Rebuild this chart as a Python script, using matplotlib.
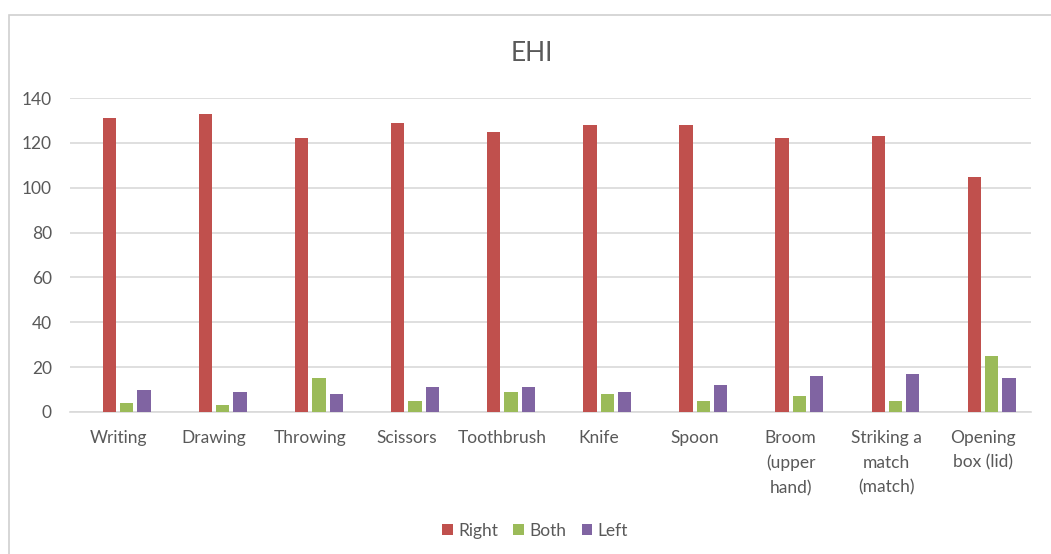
import numpy as np
import matplotlib.pyplot as plt
from matplotlib.patches import Rectangle

plt.rcParams['font.family'] = ['Lato', 'DejaVu Sans']

categories = ["Writing", "Drawing", "Throwing", "Scissors", "Toothbrush",
              "Knife", "Spoon", "Broom\n(upper\nhand)", "Striking a\nmatch\n(match)",
              "Opening\nbox (lid)"]
right = [131, 133, 122, 129, 125, 128, 128, 122, 123, 105]
both = [4, 3, 15, 5, 9, 8, 5, 7, 5, 25]
left = [10, 9, 8, 11, 11, 9, 12, 16, 17, 15]
yticks = [0, 20, 40, 60, 80, 100, 120, 140]

text_col = "#595959"
grid_col = "#d9d9d9"

fig = plt.figure(figsize=(10.51, 5.54), dpi=100)

# outer chart frame, runs off the right and bottom edges
fig.patches.append(Rectangle((9 / 1051, -0.1), 1.2, 1 - 15 / 554 + 0.1,
                             transform=fig.transFigure, fill=False,
                             edgecolor="#d0d0d0", lw=1.2))

ax = fig.add_axes([70 / 1051, 1 - 412 / 554, 961 / 1051, 314 / 554])

x = np.arange(len(categories))
w = 0.1385
step = 0.18
ax.bar(x - 0.5 * step, right, w, color="#c0504d", label="Right", zorder=3)
ax.bar(x + 0.5 * step, both, w, color="#9bbb59", label="Both", zorder=3)
ax.bar(x + 1.5 * step, left, w, color="#8064a2", label="Left", zorder=3)

ax.set_xlim(-0.5, len(categories) - 0.5)
ax.set_ylim(0, 140)
ax.set_yticks(yticks)
ax.set_xticks(x)
ax.set_xticklabels(categories, linespacing=1.65)
ax.yaxis.grid(True, color=grid_col, lw=1.2, zorder=0)
ax.tick_params(length=0, colors=text_col, labelsize=12.5)
ax.tick_params(axis="x", pad=13)
ax.tick_params(axis="y", pad=13)
for s in ["top", "right", "left"]:
    ax.spines[s].set_visible(False)
ax.spines["bottom"].set_color(grid_col)
ax.spines["bottom"].set_linewidth(1.2)

fig.text(0.506, 1 - 53.5 / 554, "EHI", ha="center", va="center",
         fontsize=19, color=text_col)

fig.legend(loc="center", bbox_to_anchor=(535 / 1051, 1 - 531 / 554), ncol=3,
           frameon=False, fontsize=12.5, labelcolor=text_col,
           handlelength=0.6, handleheight=0.6, handletextpad=0.3,
           columnspacing=0.9)

fig.savefig("out.png", dpi=100)
